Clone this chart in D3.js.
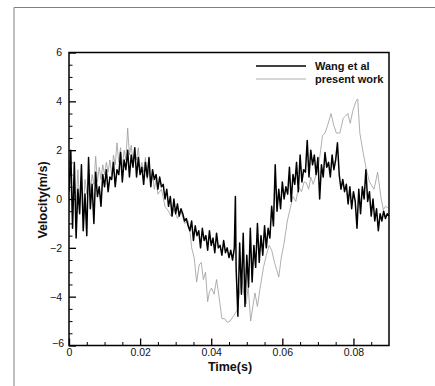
<!DOCTYPE html>
<html>
<head>
<meta charset="utf-8">
<script src="https://cdn.jsdelivr.net/npm/d3@7"></script>
<style>
  body { margin: 0; background: #fff; }
  text { font-family: Arial, "Liberation Sans", sans-serif; }
</style>
</head>
<body>
<div id="chart"></div>
<script>
//
// DATA
//

// Wang et al (black)
const wangT = [
  0.0000, 0.0005, 0.0010, 0.0015, 0.0020, 0.0025, 0.0030, 0.0035, 0.0040, 0.0045,
  0.0050, 0.0055, 0.0060, 0.0065, 0.0070, 0.0075, 0.0080, 0.0085, 0.0090, 0.0095,
  0.0100, 0.0105, 0.0110, 0.0115, 0.0120, 0.0125, 0.0130, 0.0135, 0.0140, 0.0145,
  0.0150, 0.0155, 0.0160, 0.0165, 0.0170, 0.0175, 0.0180, 0.0185, 0.0190, 0.0195,
  0.0200, 0.0205, 0.0210, 0.0215, 0.0220, 0.0225, 0.0230, 0.0235, 0.0240, 0.0245,
  0.0250, 0.0255, 0.0260, 0.0265, 0.0270, 0.0275, 0.0280, 0.0285, 0.0290, 0.0295,
  0.0300, 0.0305, 0.0310, 0.0315, 0.0320, 0.0325, 0.0330, 0.0335, 0.0340, 0.0345,
  0.0350, 0.0355, 0.0360, 0.0365, 0.0370, 0.0375, 0.0380, 0.0385, 0.0390, 0.0395,
  0.0400, 0.0405, 0.0410, 0.0415, 0.0420, 0.0425, 0.0430, 0.0435, 0.0440, 0.0445,
  0.0450, 0.0455, 0.0460, 0.0465, 0.0468, 0.0470, 0.0475, 0.0480, 0.0485, 0.0490,
  0.0495, 0.0500, 0.0505, 0.0510, 0.0515, 0.0520, 0.0525, 0.0530, 0.0535, 0.0540,
  0.0545, 0.0550, 0.0555, 0.0560, 0.0565, 0.0570, 0.0575, 0.0580, 0.0585, 0.0590,
  0.0595, 0.0600, 0.0605, 0.0610, 0.0615, 0.0620, 0.0625, 0.0630, 0.0635, 0.0640,
  0.0645, 0.0650, 0.0655, 0.0660, 0.0665, 0.0670, 0.0675, 0.0680, 0.0685, 0.0690,
  0.0695, 0.0700, 0.0705, 0.0710, 0.0715, 0.0720, 0.0725, 0.0730, 0.0735, 0.0740,
  0.0745, 0.0750, 0.0755, 0.0760, 0.0765, 0.0770, 0.0775, 0.0780, 0.0785, 0.0790,
  0.0795, 0.0800, 0.0805, 0.0810, 0.0815, 0.0820, 0.0825, 0.0830, 0.0835, 0.0840,
  0.0845, 0.0850, 0.0855, 0.0860, 0.0865, 0.0870, 0.0875, 0.0880, 0.0885, 0.0890,
  0.0895, 0.0900
];
const wangV = [
  0.3, 2.0, -1.2, 1.5, -1.6, 0.4, -0.6, 1.4, -1.3, 0.2,
  -1.5, 1.7, -0.4, 0.6, -1.0, 1.1, 0.1, 0.5, -0.3, 1.0,
  0.5, 1.2, 0.3, 0.9, 0.8, 1.5, 0.5, 1.2, 1.0, 1.9,
  0.7, 1.6, 1.2, 2.0, 0.9, 1.8, 1.3, 2.1, 0.9, 1.7,
  1.0, 1.3, 0.6, 1.5, 0.9, 1.7, 0.5, 1.2, 0.8, 1.0,
  0.4, 0.9, 0.5, 0.6, 0.0, 0.4, -0.3, 0.1, -0.7, 0.0,
  -0.6, -0.2, -0.7, -0.4, -0.6, -0.9, -0.8, -1.1, -1.3, -0.9,
  -1.7, -1.1, -1.5, -1.3, -2.0, -1.2, -1.7, -1.5, -2.1, -1.3,
  -1.9, -1.6, -2.2, -1.4, -2.0, -1.9, -2.3, -1.7, -2.2, -2.0,
  -2.4, -2.1, -2.5, -2.0, 0.1, -2.8, -4.8, -1.8, -3.9, -1.4,
  -4.4, -2.3, -3.6, -1.2, -3.4, -1.9, -2.8, -1.0, -2.6, -1.5,
  -2.3, -1.1, -2.0, -1.2, -1.6, -0.3, -1.1, 1.4, -0.5, 0.4,
  -0.4, 0.7, 0.0, 0.5, 0.2, 1.3, -0.1, 1.0, 0.6, 1.5,
  0.3, 1.8, 0.7, 1.2, 1.1, 2.4, 0.9, 2.0, 1.4, 1.8,
  1.0, 1.7, 0.0, 1.4, 0.9, 1.9, 1.3, 1.5, 0.9, 1.8,
  1.2, 1.6, 2.3, 1.0, 0.4, 0.8, 0.3, 0.6, -0.2, 0.5,
  -0.4, 0.3, -0.1, -1.2, 0.4, -0.6, 0.5, 0.0, 1.2, -0.1,
  0.3, -0.7, 0.0, -0.9, -0.4, -1.3, -0.6, -0.9, -0.5, -0.8,
  -0.6, -0.7
];

// present work (gray)
const presentT = [
  0.0000, 0.0005, 0.0010, 0.0015, 0.0020, 0.0025, 0.0030, 0.0035, 0.0040, 0.0045,
  0.0050, 0.0055, 0.0060, 0.0065, 0.0070, 0.0075, 0.0080, 0.0085, 0.0090, 0.0095,
  0.0100, 0.0105, 0.0110, 0.0115, 0.0120, 0.0125, 0.0130, 0.0135, 0.0140, 0.0145,
  0.0150, 0.0155, 0.0160, 0.0165, 0.0170, 0.0175, 0.0180, 0.0185, 0.0190, 0.0195,
  0.0200, 0.0205, 0.0210, 0.0215, 0.0220, 0.0225, 0.0230, 0.0235, 0.0240, 0.0245,
  0.0250, 0.0260, 0.0270, 0.0280, 0.0287, 0.0295, 0.0305, 0.0315, 0.0325, 0.0335,
  0.0340, 0.0345, 0.0352, 0.0359, 0.0366, 0.0372, 0.0378, 0.0384, 0.0390, 0.0395,
  0.0401, 0.0408, 0.0415, 0.0422, 0.0430, 0.0438, 0.0445, 0.0453, 0.0460, 0.0467,
  0.0473, 0.0480, 0.0486, 0.0492, 0.0498, 0.0504, 0.0511, 0.0517, 0.0523, 0.0530,
  0.0537, 0.0547, 0.0555, 0.0563, 0.0570, 0.0578, 0.0584, 0.0590, 0.0597, 0.0605,
  0.0614, 0.0622, 0.0630, 0.0638, 0.0646, 0.0654, 0.0661, 0.0667, 0.0674, 0.0680,
  0.0687, 0.0695, 0.0700, 0.0706, 0.0713, 0.0720, 0.0727, 0.0737, 0.0745, 0.0752,
  0.0762, 0.0771, 0.0778, 0.0784, 0.0791, 0.0798, 0.0807, 0.0812, 0.0818, 0.0826,
  0.0835, 0.0845, 0.0858, 0.0868, 0.0878, 0.0884, 0.0890, 0.0896, 0.0900
];
const presentV = [
  -0.5, 1.0, -0.8, 0.9, -0.5, 1.2, -0.3, 1.0, -0.6, 0.8,
  0.2, 1.2, 0.3, 1.0, 0.6, 1.75, 0.7, 1.3, 0.8, 1.4,
  1.0, 1.5, 1.1, 1.6, 1.0, 1.8, 1.4, 2.3, 1.5, 2.1,
  1.3, 2.0, 1.6, 2.9, 1.8, 2.2, 1.5, 2.0, 1.6, 2.1,
  1.2, 1.5, 1.1, 1.7, 0.8, 1.2, 0.5, 1.0, 0.4, 0.8,
  0.2, 0.4, -0.3, -0.5, -0.7, -0.4, -0.8, -0.5, -1.0, -0.9,
  -1.3, -2.0, -2.4, -3.4, -2.7, -2.6, -3.3, -3.0, -4.2, -3.8,
  -3.65, -3.9, -3.3, -4.0, -4.9, -4.9, -5.05, -5.0, -4.85, -4.7,
  -4.55, -3.8, -3.2, -3.9, -4.3, -3.6, -5.0, -4.4, -3.85, -4.4,
  -3.7, -2.8, -2.3, -1.9, -2.1, -2.6, -2.9, -3.2, -2.4, -1.8,
  -0.9, -0.4, 0.1, -0.1, 0.5, 0.3, 0.7, 0.67, 0.4, 0.9,
  0.6, 1.0, 1.2, 1.8, 2.6, 2.7, 3.0, 3.5, 3.0, 2.7,
  2.7, 3.3, 3.4, 3.5, 3.1, 3.6, 4.0, 4.1, 2.7, 2.0,
  1.3, 0.7, 0.4, 1.1, 0.0, -0.44, -0.3, -0.35, -0.4
];

// axes
const xTicks = [0, 0.02, 0.04, 0.06, 0.08];
const xMinor = [0.005, 0.01, 0.015, 0.025, 0.03, 0.035, 0.045, 0.05, 0.055, 0.065, 0.07, 0.075, 0.085];
const yTicks = [-6, -4, -2, 0, 2, 4, 6];
const yMinor = [-5.5, -5, -4.5, -3.5, -3, -2.5, -1.5, -1, -0.5, 0.5, 1, 1.5, 2.5, 3, 3.5, 4.5, 5, 5.5];
const seriesNames = ['Wang et al', 'present work'];

//
// CHART
//

const width = 435;
const height = 386;
const margin = {top: 52.5, right: 46, bottom: 40.5, left: 69};

const svg = d3.select('#chart')
    .append('svg')
        .attr('width', width)
        .attr('height', height);

// outer frame (top and left only)
svg.append('path')
    .attr('d', `M14,386 L14,7.5 L${width},7.5`)
    .attr('fill', 'none')
    .attr('stroke', '#808080')
    .attr('stroke-width', 1);

const x = d3.scaleLinear()
    .domain([0, 0.09])
    .range([margin.left, width - margin.right]);
const y = d3.scaleLinear()
    .domain([-6, 6])
    .range([height - margin.bottom, margin.top]);

svg.append('defs')
    .append('clipPath')
    .attr('id', 'plot-clip')
    .append('rect')
        .attr('x', x(0))
        .attr('y', y(6))
        .attr('width', x(0.09) - x(0))
        .attr('height', y(-6) - y(6));

const line = d3.line()
    .x(d => x(d[0]))
    .y(d => y(d[1]));

const plot = svg.append('g')
    .attr('clip-path', 'url(#plot-clip)');

// present work under, Wang on top
plot.append('path')
    .datum(d3.zip(presentT, presentV))
    .attr('fill', 'none')
    .attr('stroke', '#9a9a9a')
    .attr('stroke-width', 0.8)
    .attr('d', line);

plot.append('path')
    .datum(d3.zip(wangT, wangV))
    .attr('fill', 'none')
    .attr('stroke', '#000')
    .attr('stroke-width', 1.5)
    .attr('stroke-linejoin', 'round')
    .attr('d', line);

// x axis: inward ticks
const xx = g =>
    g
        .attr('transform', `translate(0,${y(-6)})`)
        .call(d3.axisBottom(x)
            .tickValues(xTicks)
            .tickSize(-7)
            .tickPadding(3.5)
            .tickFormat(d => d === 0 ? '0' : d3.format('.2f')(d)))
        .call(g => g.select('.domain').remove())
        .call(g => g.selectAll('.tick line')
            .attr('stroke', '#000')
            .attr('stroke-width', 1.3))
        .call(g => g.selectAll('.tick text')
            .attr('fill', '#111')
            .style('font-size', '10.5px'));

const xm = g =>
    g
        .attr('transform', `translate(0,${y(-6)})`)
        .call(d3.axisBottom(x)
            .tickValues(xMinor)
            .tickSize(-3.5)
            .tickFormat(''))
        .call(g => g.select('.domain').remove())
        .call(g => g.selectAll('.tick line').attr('stroke', '#000'));

const yx = g =>
    g
        .attr('transform', `translate(${x(0)},0)`)
        .call(d3.axisLeft(y)
            .tickValues(yTicks)
            .tickSize(-7)
            .tickPadding(7))
        .call(g => g.select('.domain').remove())
        .call(g => g.selectAll('.tick line')
            .attr('stroke', '#000')
            .attr('stroke-width', 1.3))
        .call(g => g.selectAll('.tick text')
            .attr('fill', '#111')
            .style('font-size', '10.5px'))
        .call(g => g.selectAll('.tick')
            .filter(d => d === -6)
            .select('text')
            .attr('x', -5)
            .attr('dy', '0.1em'));

const ym = g =>
    g
        .attr('transform', `translate(${x(0)},0)`)
        .call(d3.axisLeft(y)
            .tickValues(yMinor)
            .tickSize(-3.5)
            .tickFormat(''))
        .call(g => g.select('.domain').remove())
        .call(g => g.selectAll('.tick line').attr('stroke', '#000'));

svg.append('g').call(xm);
svg.append('g').call(ym);
svg.append('g').call(xx);
svg.append('g').call(yx);

svg.selectAll('.tick text')
    .attr('font-family', 'Arial, "Liberation Sans", sans-serif');

// plot box
svg.append('rect')
    .attr('x', x(0))
    .attr('y', y(6))
    .attr('width', x(0.09) - x(0))
    .attr('height', y(-6) - y(6))
    .attr('fill', 'none')
    .attr('stroke', '#000')
    .attr('stroke-width', 1.5);

// axis titles
svg.append('text')
    .attr('x', (x(0) + x(0.09)) / 2 + 1)
    .attr('y', 370.5)
    .attr('text-anchor', 'middle')
    .attr('font-weight', 'bold')
    .attr('font-size', 12.5)
    .attr('fill', '#111')
    .text('Time(s)');

svg.append('text')
    .attr('transform', `translate(47,${y(0) + 1}) rotate(-90)`)
    .attr('text-anchor', 'middle')
    .attr('font-weight', 'bold')
    .attr('font-size', 12.5)
    .attr('fill', '#111')
    .text('Velocity(m/s)');

// legend
const legend = svg.append('g');
const legendStyles = [
    {stroke: '#000', width: 1.5},
    {stroke: '#9a9a9a', width: 0.8}
];
seriesNames.forEach((name, i) => {
    const ly = 66 + i * 13;
    legend.append('line')
        .attr('x1', 256)
        .attr('x2', 306)
        .attr('y1', ly)
        .attr('y2', ly)
        .attr('stroke', legendStyles[i].stroke)
        .attr('stroke-width', legendStyles[i].width);
    legend.append('text')
        .attr('x', 315)
        .attr('y', ly + 4)
        .attr('font-weight', 'bold')
        .attr('font-size', 11)
        .attr('fill', '#111')
        .text(name);
});
</script>
</body>
</html>
